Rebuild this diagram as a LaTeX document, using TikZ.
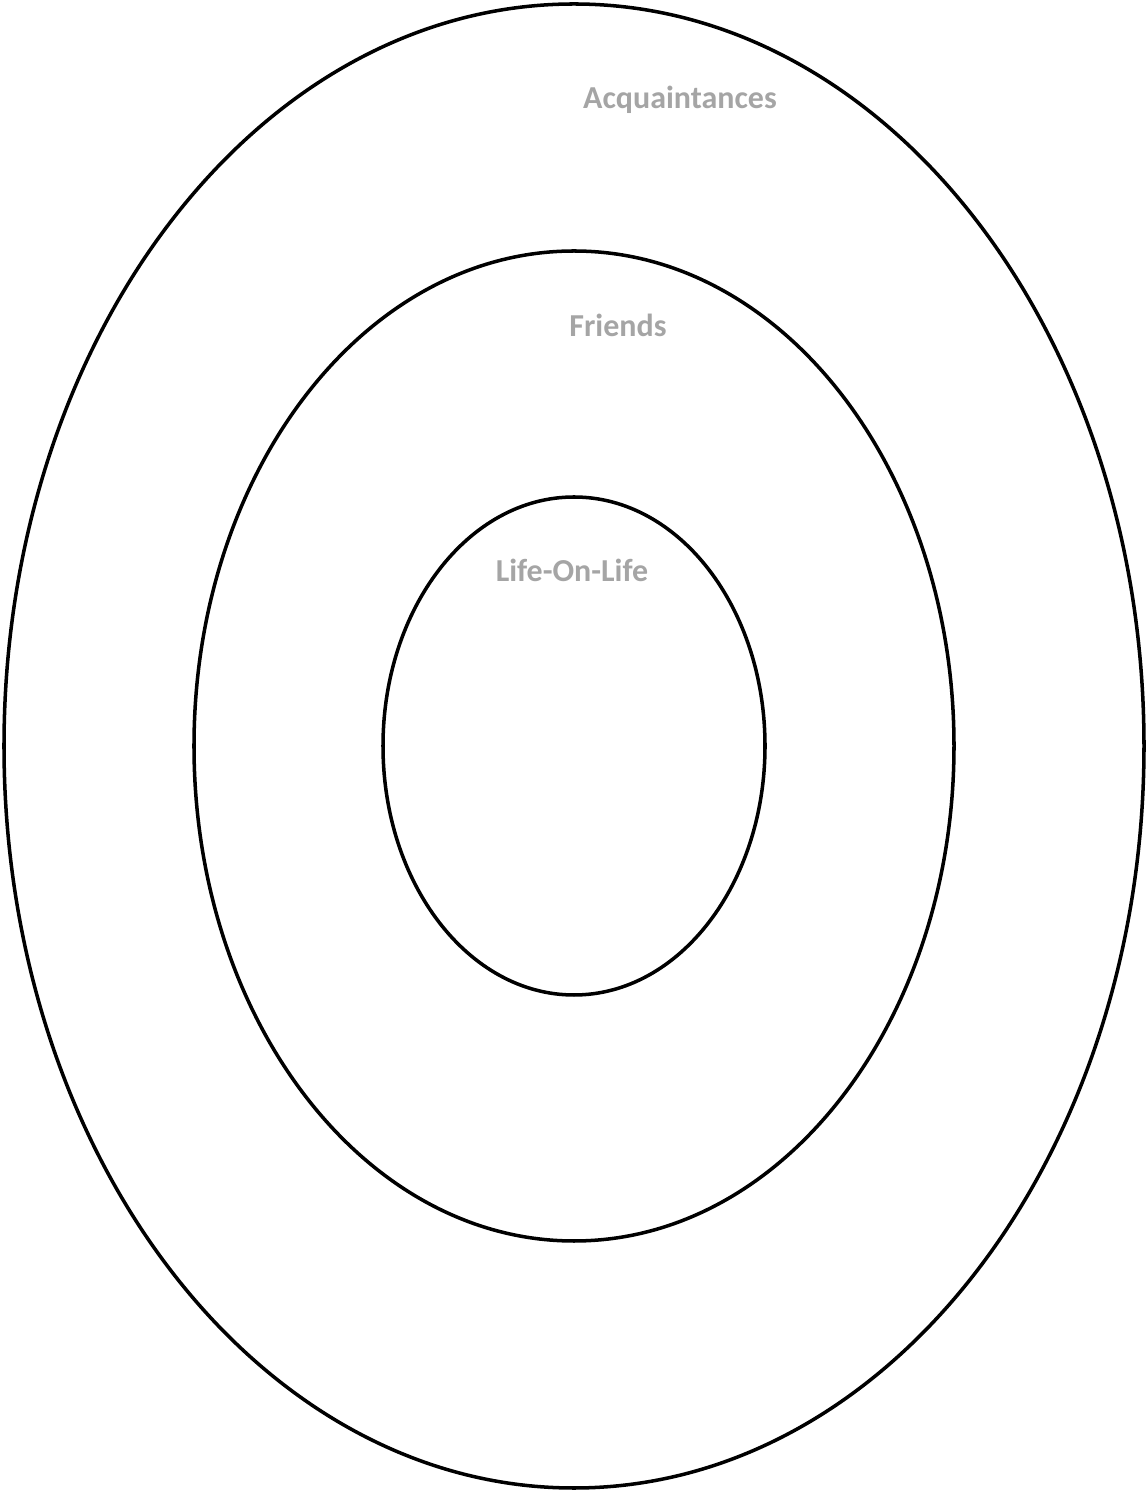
\documentclass[tikz,border=0pt]{standalone}
\usepackage{fontspec}
\setmainfont{Carlito}
\usetikzlibrary{shapes.geometric, calc}

\definecolor{labelgray}{RGB}{165,165,165}

\begin{document}
\begin{tikzpicture}[
		ring/.style={draw=black, line width=2pt, ellipse, inner sep=0pt},
		circlelabel/.style={font=\fontsize{18.2}{21}\selectfont\bfseries, text=labelgray}
		]
		\useasboundingbox (0,0) rectangle (22.92,29.84);
		
		% Centre of the rings
		\coordinate (centre) at (11.48,14.92);
		
		% Rings, outer to inner
		\node[ring, minimum width=22.8cm, minimum height=29.68cm] (acq) at (centre) {};
		\node[ring, minimum width=15.2cm, minimum height=19.8cm] (friends) at (centre) {};
		\node[ring, minimum width=7.64cm, minimum height=9.96cm] (life) at (centre) {};
		
		% Labels
		\node[circlelabel] (acqtext) at ($(acq.north) + (2.12,-1.96)$) {Acquaintances};
		\node[circlelabel] (friendstext) at ($(friends.north) + (0.88,-1.52)$) {Friends};
		\node[circlelabel] (lifetext) at ($(life.north) + (-0.04,-1.5)$) {Life-On-Life};
		
	\end{tikzpicture}
\end{document}
